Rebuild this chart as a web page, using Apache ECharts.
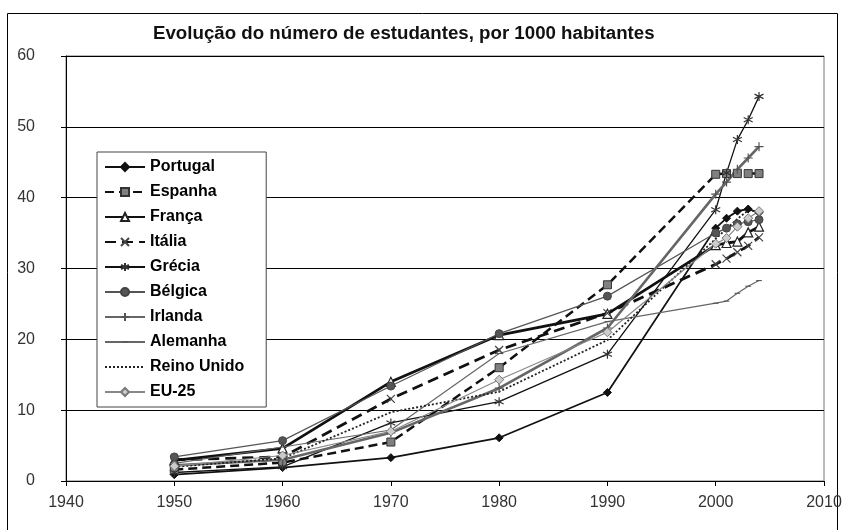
<!DOCTYPE html>
<html>
<head>
<meta charset="utf-8">
<script src="https://cdn.jsdelivr.net/npm/echarts@6/dist/echarts.min.js"></script>
<style>
  html, body { margin: 0; padding: 0; background: #fff; }
  #myEchart { width: 850px; height: 530px; }
</style>
</head>
<body>
<div id="myEchart"></div>
<script>
// anos e valores (estudantes por 1000 habitantes)
var anos = [1950, 1960, 1970, 1980, 1990, 2000, 2001, 2002, 2003, 2004];
var portugal = [0.9, 1.9, 3.3, 6.1, 12.5, 35.7, 37.1, 38.1, 38.4, 37.9];
var espanha = [1.6, 2.6, 5.5, 16.0, 27.7, 43.3, 43.4, 43.4, 43.4, 43.4];
var franca = [2.9, 4.6, 14.0, 20.6, 23.6, 33.3, 33.6, 33.8, 35.1, 35.9];
var italia = [3.0, 3.4, 11.6, 18.5, 23.7, 30.6, 31.4, 32.3, 33.2, 34.4];
var grecia = [1.2, 2.0, 8.2, 11.2, 17.9, 38.3, 43.5, 48.2, 51.0, 54.3];
var belgica = [3.4, 5.7, 13.4, 20.8, 26.1, 35.0, 35.7, 36.3, 36.6, 36.9];
var irlanda = [2.2, 3.0, 6.8, 13.1, 21.6, 40.5, 42.2, 44.0, 45.6, 47.2];
var alemanha = [2.5, 4.8, 7.2, 18.0, 22.5, 25.1, 25.4, 26.5, 27.5, 28.3];
var reinoUnido = [2.0, 3.2, 9.7, 12.6, 19.9, 34.2, 35.6, 37.0, 38.2, 38.0];
var eu25 = [2.1, 3.6, 7.0, 14.3, 21.0, 33.5, 34.3, 35.9, 37.1, 38.1];

var xTicks = [1940, 2010, 10];
var yTicks = [0, 60, 10];

var chart = echarts.init(document.getElementById('myEchart'));

function pares (vals) {
  return anos.map(function (a, i) { return [a, vals[i]]; });
}

// marcadores tipo Excel
var simX = 'path://M0,0L10,10M10,0L0,10';
var simAst = 'path://M5,0L5,10M0,2.5L10,7.5M0,7.5L10,2.5';
var simMais = 'path://M5,0L5,10M0,5L10,5';
var simTraco = 'path://M0,0M10,10M1,4.2L9,4.2L9,5.8L1,5.8Z'; // pontos M só para caixa quadrada

function serie (nome, vals, linha, simbolo, tam, item) {
  return {
    name: nome,
    type: 'line',
    data: pares(vals),
    symbol: simbolo,
    symbolSize: tam,
    showSymbol: true,
    lineStyle: linha,
    itemStyle: item,
    emphasis: { disabled: true },
    animation: false
  };
}

var fonte = 'Liberation Sans, Arial';

var option = {
  backgroundColor: '#fff',
  title: {
    text: 'Evolução do número de estudantes, por 1000 habitantes',
    left: 148,
    top: 19,
    textStyle: {
      fontFamily: fonte,
      fontWeight: 'bold',
      fontSize: 18.7,
      color: '#111'
    }
  },
  graphic: [{
    type: 'rect',
    shape: { x: 7.5, y: 13.5, width: 830, height: 530 },
    style: { fill: 'none', stroke: '#000', lineWidth: 1 },
    silent: true
  }],
  legend: {
    orient: 'vertical',
    left: 97,
    top: 152,
    padding: [6, 22, 6, 7],
    itemWidth: 40,
    itemHeight: 10,
    itemGap: 7,
    selectedMode: false,
    backgroundColor: '#fff',
    borderColor: '#444',
    borderWidth: 1,
    textStyle: {
      fontFamily: fonte,
      fontWeight: 'bold',
      fontSize: 16,
      lineHeight: 18,
      color: '#000'
    },
    z: 10
  },
  grid: {
    left: 66,
    right: 26,
    top: 56,
    bottom: 49,
    show: true,
    borderColor: '#777',
    borderWidth: 1
  },
  xAxis: {
    type: 'value',
    min: xTicks[0],
    max: xTicks[1],
    interval: xTicks[2],
    axisLine: { show: true, lineStyle: { color: '#000', width: 1 } },
    axisTick: { show: true, length: 5, lineStyle: { color: '#000' } },
    splitLine: { show: false },
    axisLabel: {
      margin: 14,
      fontFamily: fonte,
      fontSize: 16,
      color: '#333',
      formatter: function (v) { return String(v); }
    }
  },
  yAxis: {
    type: 'value',
    min: yTicks[0],
    max: yTicks[1],
    interval: yTicks[2],
    axisLine: { show: true, lineStyle: { color: '#000', width: 1 } },
    axisTick: { show: true, length: 5, lineStyle: { color: '#000' } },
    splitLine: { show: true, lineStyle: { color: '#000', width: 1 } },
    axisLabel: {
      margin: 31,
      fontFamily: fonte,
      fontSize: 16,
      color: '#333'
    }
  },
  series: [
    serie('Portugal', portugal, { color: '#111', width: 1.8 }, 'diamond', 8,
      { color: '#111', borderColor: '#111', borderWidth: 1 }),
    serie('Espanha', espanha, { color: '#111', width: 2.5, type: [9, 5] }, 'rect', 8,
      { color: '#808080', borderColor: '#333', borderWidth: 1 }),
    serie('França', franca, { color: '#111', width: 2.8 }, 'triangle', 9,
      { color: '#fff', borderColor: '#222', borderWidth: 1.2 }),
    serie('Itália', italia, { color: '#111', width: 2.8, type: [11, 6] }, simX, 8,
      { color: 'none', borderColor: '#444', borderWidth: 1.2 }),
    serie('Grécia', grecia, { color: '#111', width: 1.3 }, simAst, 9,
      { color: 'none', borderColor: '#333', borderWidth: 1.2 }),
    serie('Bélgica', belgica, { color: '#555', width: 1.2 }, 'circle', 8,
      { color: '#555', borderColor: '#444', borderWidth: 1 }),
    serie('Irlanda', irlanda, { color: '#666', width: 2.6 }, simMais, 9,
      { color: 'none', borderColor: '#555', borderWidth: 1.2 }),
    serie('Alemanha', alemanha, { color: '#666', width: 1.2 }, simTraco, 7,
      { color: '#555', borderColor: '#555', borderWidth: 0 }),
    serie('Reino Unido', reinoUnido, { color: '#222', width: 1.8, type: [2, 2] }, 'circle', 0,
      { color: 'rgba(0,0,0,0)', borderWidth: 0 }),
    serie('EU-25', eu25, { color: '#888', width: 1.2 }, 'diamond', 9,
      { color: '#ccc', borderColor: '#777', borderWidth: 1 })
  ]
};

chart.setOption(option);
</script>
</body>
</html>
